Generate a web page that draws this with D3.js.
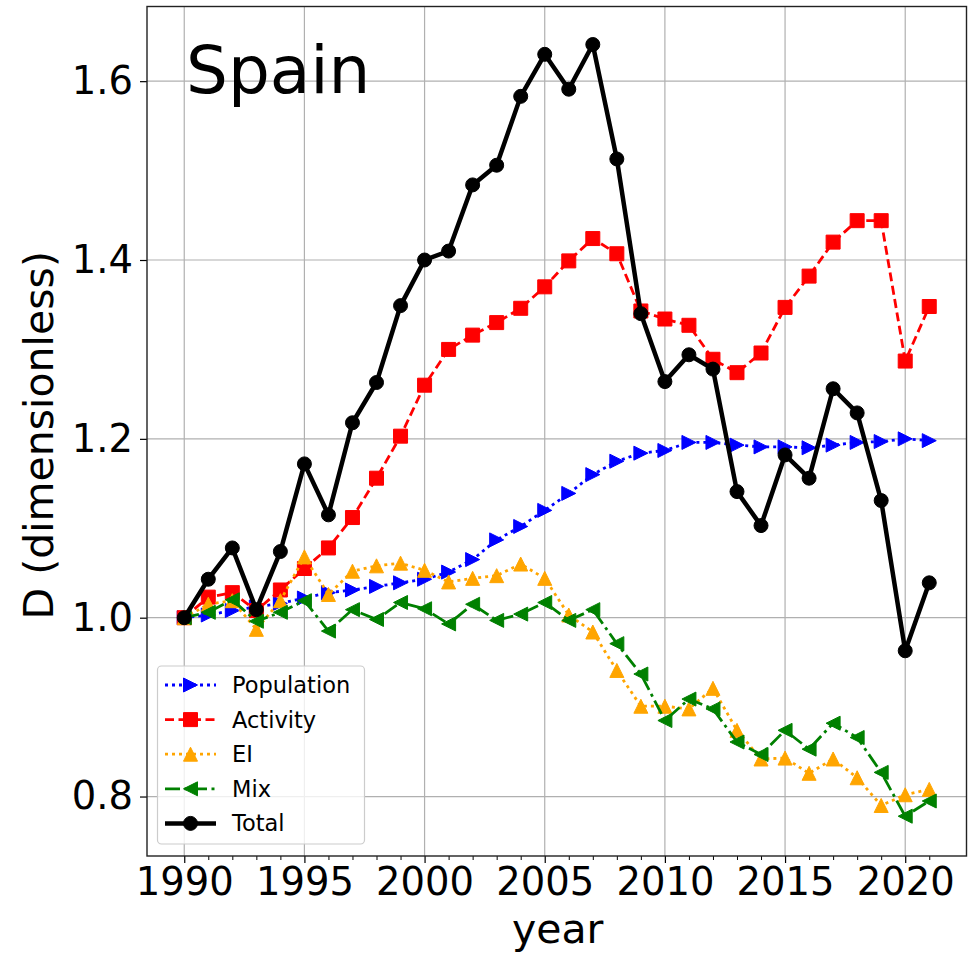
<!DOCTYPE html>
<html>
<head>
<meta charset="utf-8">
<script src="https://cdn.jsdelivr.net/npm/d3@7"></script>
<style>
  html, body { margin: 0; padding: 0; background: #fff; }
  svg { display: block; }
  text { font-family: "DejaVu Sans", sans-serif; }
</style>
</head>
<body>
<svg id="chart" width="979" height="956"></svg>
<script>
const years = d3.range(1990, 2022);
const population = [1.000,1.003,1.008,1.012,1.016,1.022,1.028,1.031,1.035,1.039,1.043,1.051,1.065,1.087,1.102,1.120,1.139,1.160,1.175,1.184,1.187,1.196,1.196,1.193,1.191,1.191,1.190,1.193,1.196,1.197,1.200,1.198];
const activity   = [1.000,1.023,1.028,1.008,1.031,1.055,1.078,1.112,1.156,1.203,1.260,1.300,1.316,1.330,1.346,1.370,1.399,1.424,1.407,1.343,1.334,1.327,1.289,1.274,1.296,1.347,1.382,1.420,1.444,1.444,1.287,1.348];
const ei         = [1.000,1.015,1.019,0.987,1.019,1.068,1.026,1.052,1.058,1.061,1.053,1.040,1.044,1.047,1.060,1.044,1.003,0.984,0.941,0.901,0.901,0.898,0.921,0.874,0.842,0.843,0.826,0.842,0.821,0.790,0.802,0.808];
const mix        = [1.000,1.006,1.020,0.996,1.006,1.019,0.985,1.009,0.998,1.017,1.010,0.993,1.015,0.997,1.004,1.017,0.997,1.009,0.971,0.937,0.885,0.909,0.898,0.861,0.847,0.874,0.853,0.882,0.866,0.827,0.778,0.795];
const total      = [1.000,1.043,1.078,1.009,1.074,1.172,1.115,1.218,1.263,1.349,1.400,1.410,1.484,1.506,1.583,1.630,1.591,1.641,1.513,1.340,1.264,1.294,1.278,1.141,1.103,1.182,1.156,1.256,1.229,1.131,0.963,1.039];
const seriesNames = ["Population","Activity","EI","Mix","Total"];
const xTicks = [1990,1995,2000,2005,2010,2015,2020];
const yTicks = [0.8,1.0,1.2,1.4,1.6];
const titleText = "Spain";

const styles = {
  Population: {color:"#0000ff", dash:"3,4", width:2.8, marker:"tri-right"},
  Activity:   {color:"#ff0000", dash:"9,4.5", width:2.8, marker:"square"},
  EI:         {color:"#ffa500", dash:"3,4", width:2.8, marker:"tri-up"},
  Mix:        {color:"#008000", dash:"15,4.5,3,4.5", width:2.8, marker:"tri-left"},
  Total:      {color:"#000000", dash:null, width:4.5, marker:"circle"}
};
const data = {Population: population, Activity: activity, EI: ei, Mix: mix, Total: total};

const svg = d3.select("#chart");
const L = 147, R = 966.5, T = 6.5, B = 856;
const x = d3.scaleLinear().domain([1988.45, 2022.55]).range([L, R]);
const y = d3.scaleLinear().domain([0.7335, 1.6835]).range([B, T]);

// grid
const grid = svg.append("g");
xTicks.forEach(t => grid.append("line").attr("x1", x(t)).attr("x2", x(t)).attr("y1", T).attr("y2", B)
  .attr("stroke", "#b0b0b0").attr("stroke-width", 1.2));
yTicks.forEach(t => grid.append("line").attr("x1", L).attr("x2", R).attr("y1", y(t)).attr("y2", y(t))
  .attr("stroke", "#b0b0b0").attr("stroke-width", 1.2));

function markerPath(type, s) {
  const h = s / 2;
  if (type === "circle") return d3.symbol(d3.symbolCircle, Math.PI * h * h)();
  if (type === "square") return `M${-h},${-h}H${h}V${h}H${-h}Z`;
  if (type === "tri-up") return `M0,${-h}L${h},${h}L${-h},${h}Z`;
  if (type === "tri-right") return `M${h},0L${-h},${-h}L${-h},${h}Z`;
  if (type === "tri-left") return `M${-h},0L${h},${-h}L${h},${h}Z`;
}

const plot = svg.append("g");
const line = d3.line().x((d, i) => x(years[i])).y(d => y(d));
seriesNames.forEach(name => {
  const st = styles[name];
  const g = plot.append("g");
  g.append("path").datum(data[name]).attr("d", line).attr("fill", "none")
    .attr("stroke", st.color).attr("stroke-width", st.width)
    .attr("stroke-dasharray", st.dash).attr("stroke-linejoin", "round");
  g.selectAll("path.m").data(data[name]).enter().append("path").attr("class", "m")
    .attr("transform", (d, i) => `translate(${x(years[i])},${y(d)})`)
    .attr("d", markerPath(st.marker, 14))
    .attr("fill", st.color).attr("stroke", st.color).attr("stroke-width", 1);
});

// axes
const xAxis = d3.axisBottom(x).tickValues(xTicks).tickFormat(d3.format("d")).tickSize(7).tickPadding(5);
const gx = svg.append("g").attr("transform", `translate(0,${B})`).call(xAxis);
gx.select(".domain").remove();
gx.selectAll("line").attr("stroke", "#000").attr("stroke-width", 1.2);
gx.selectAll("text").attr("font-size", 38.5).attr("fill", "#000").attr("font-family", "DejaVu Sans");
const xMinor = d3.axisBottom(x).tickValues(years.filter(v => !xTicks.includes(v))).tickFormat("").tickSize(4);
const gxm = svg.append("g").attr("transform", `translate(0,${B})`).call(xMinor);
gxm.select(".domain").remove();
gxm.selectAll("line").attr("stroke", "#000").attr("stroke-width", 1);

const yAxis = d3.axisLeft(y).tickValues(yTicks).tickFormat(d3.format(".1f")).tickSize(7).tickPadding(7);
const gy = svg.append("g").attr("transform", `translate(${L},0)`).call(yAxis);
gy.select(".domain").remove();
gy.selectAll("line").attr("stroke", "#000").attr("stroke-width", 1.2);
gy.selectAll("text").attr("font-size", 38.5).attr("fill", "#000").attr("font-family", "DejaVu Sans");

// frame
svg.append("rect").attr("x", L).attr("y", T).attr("width", R - L).attr("height", B - T)
  .attr("fill", "none").attr("stroke", "#222").attr("stroke-width", 1.4);

// labels
svg.append("text").attr("x", (L + R) / 2 + 1).attr("y", 943).attr("text-anchor", "middle")
  .attr("font-size", 41).text("year");
svg.append("text").attr("transform", `translate(53,${(T + B) / 2 + 4}) rotate(-90)`).attr("text-anchor", "middle")
  .attr("font-size", 41).text("D (dimensionless)");
svg.append("text").attr("x", 186).attr("y", 93).attr("font-size", 66).text(titleText);

// legend
const lg = svg.append("g");
lg.append("rect").attr("x", 157.5).attr("y", 666).attr("width", 207).attr("height", 178).attr("rx", 4)
  .attr("fill", "rgba(255,255,255,0.8)").attr("stroke", "#cccccc").attr("stroke-width", 1.2);
seriesNames.forEach((name, i) => {
  const st = styles[name];
  const cy = 685 + i * 34.6;
  lg.append("line").attr("x1", 165).attr("x2", 216).attr("y1", cy).attr("y2", cy)
    .attr("stroke", st.color).attr("stroke-width", st.width).attr("stroke-dasharray", st.dash);
  lg.append("path").attr("transform", `translate(190.5,${cy})`).attr("d", markerPath(st.marker, 14))
    .attr("fill", st.color).attr("stroke", st.color).attr("stroke-width", 1);
  lg.append("text").attr("x", 232).attr("y", cy + 8).attr("font-size", 22.5).text(name);
});
</script>
</body>
</html>
